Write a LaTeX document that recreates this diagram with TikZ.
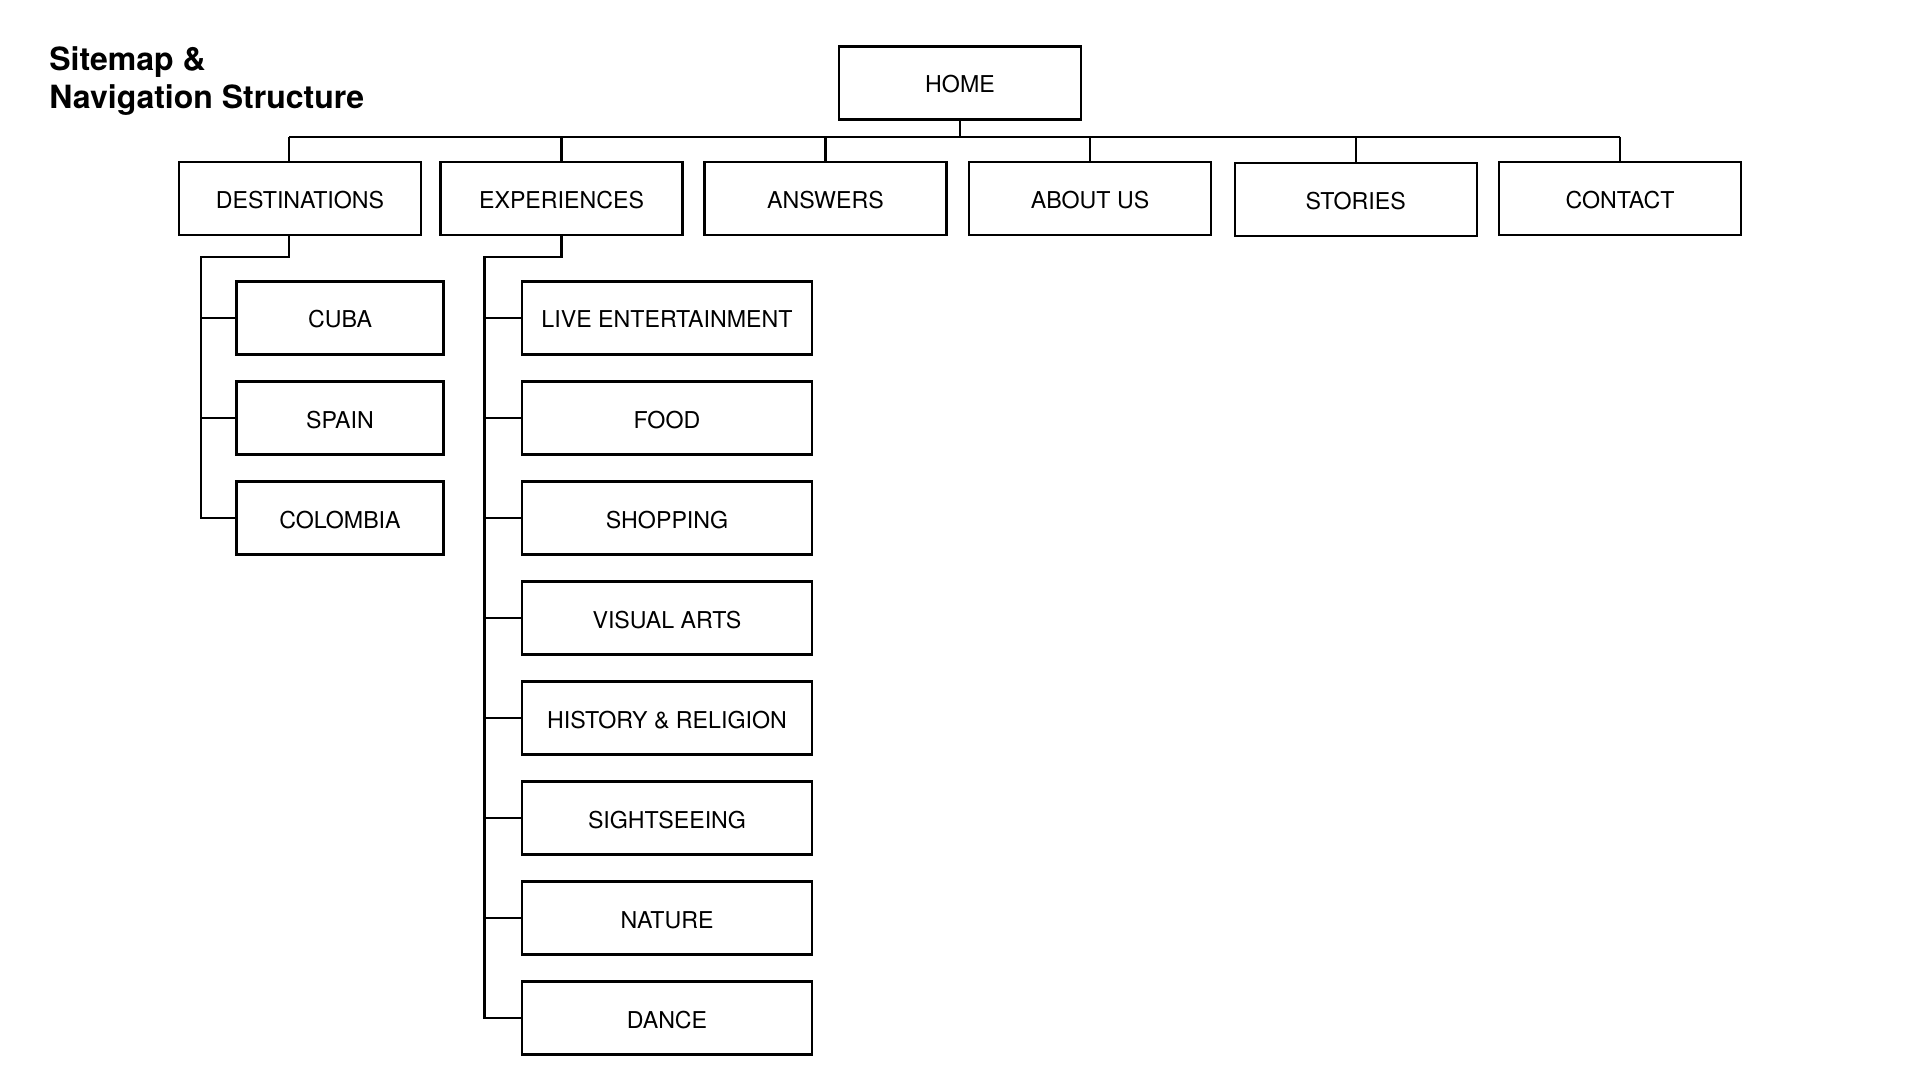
\documentclass[tikz,border=0pt]{standalone}
\usepackage{fontspec}
\setmainfont{TeX Gyre Heros}
\begin{document}
\begin{tikzpicture}[x=0.5pt,y=-0.5pt,
  box/.style={draw=black,line width=1.05pt,rectangle,inner sep=0pt,minimum height=36.5pt,text height=10pt,text depth=0pt,font=\fontsize{11.6pt}{13pt}\selectfont},
  topbox/.style={box,minimum width=121pt},
  destbox/.style={box,minimum width=103.5pt},
  expbox/.style={box,minimum width=145pt},
  conn/.style={draw=black,line width=1.05pt},
  titlefont/.style={font=\fontsize{16pt}{19pt}\selectfont\bfseries,inner sep=0pt}]
\useasboundingbox (0,0) rectangle (1920,1080);
\fill[white] (0,0) rectangle (1920,1080);

% title
\node[titlefont,anchor=base west] (title1) at (49,70.5) {Sitemap \&};
\node[titlefont,anchor=base west] (title2) at (49,108.5) {Navigation Structure};

% home
\node[topbox] (home) at (960,83) {HOME};

% level 1
\node[topbox] (dest) at (300,198.3) {DESTINATIONS};
\node[topbox] (exper) at (561.5,198.3) {EXPERIENCES};
\node[topbox] (answers) at (825.5,198.3) {ANSWERS};
\node[topbox] (about) at (1090,198.3) {ABOUT US};
\node[topbox] (stories) at (1355.7,199.5) {STORIES};
\node[topbox] (contact) at (1620,198.3) {CONTACT};

% destinations children
\node[destbox] (cuba) at (340,318) {CUBA};
\node[destbox] (spain) at (340,418) {SPAIN};
\node[destbox] (colombia) at (340,518) {COLOMBIA};

% experiences children
\node[expbox] (live) at (667,318) {LIVE ENTERTAINMENT};
\node[expbox] (food) at (667,418) {FOOD};
\node[expbox] (shopping) at (667,518) {SHOPPING};
\node[expbox] (visual) at (667,618) {VISUAL ARTS};
\node[expbox] (history) at (667,718) {HISTORY \& RELIGION};
\node[expbox] (sight) at (667,818) {SIGHTSEEING};
\node[expbox] (nature) at (667,918) {NATURE};
\node[expbox] (dance) at (667,1018) {DANCE};

% bus
\coordinate (busL) at (289,137);
\coordinate (busR) at (1620,137);
\draw[conn,line width=1.2pt] (busL) -- (busR);
\draw[conn] (home.south) -- (home.south |- busL);
\draw[conn] (busL) -- (busL |- dest.north);
\draw[conn] (exper.north |- busL) -- (exper.north);
\draw[conn] (answers.north |- busL) -- (answers.north);
\draw[conn] (about.north |- busL) -- (about.north);
\draw[conn] (stories.north |- busL) -- (stories.north);
\draw[conn] (contact.north |- busL) -- (contact.north);

% destinations tree
\coordinate (dk) at (201,256.7);
\draw[conn] (busL |- dest.south) |- (dk) |- (colombia.west);
\draw[conn] (dk |- cuba.west) -- (cuba.west);
\draw[conn] (dk |- spain.west) -- (spain.west);

% experiences tree
\coordinate (ek) at (484.5,256.7);
\draw[conn] (exper.south) |- (ek) |- (dance.west);
\foreach \n in {live,food,shopping,visual,history,sight,nature}
  \draw[conn] (ek |- \n.west) -- (\n.west);
\end{tikzpicture}
\end{document}
